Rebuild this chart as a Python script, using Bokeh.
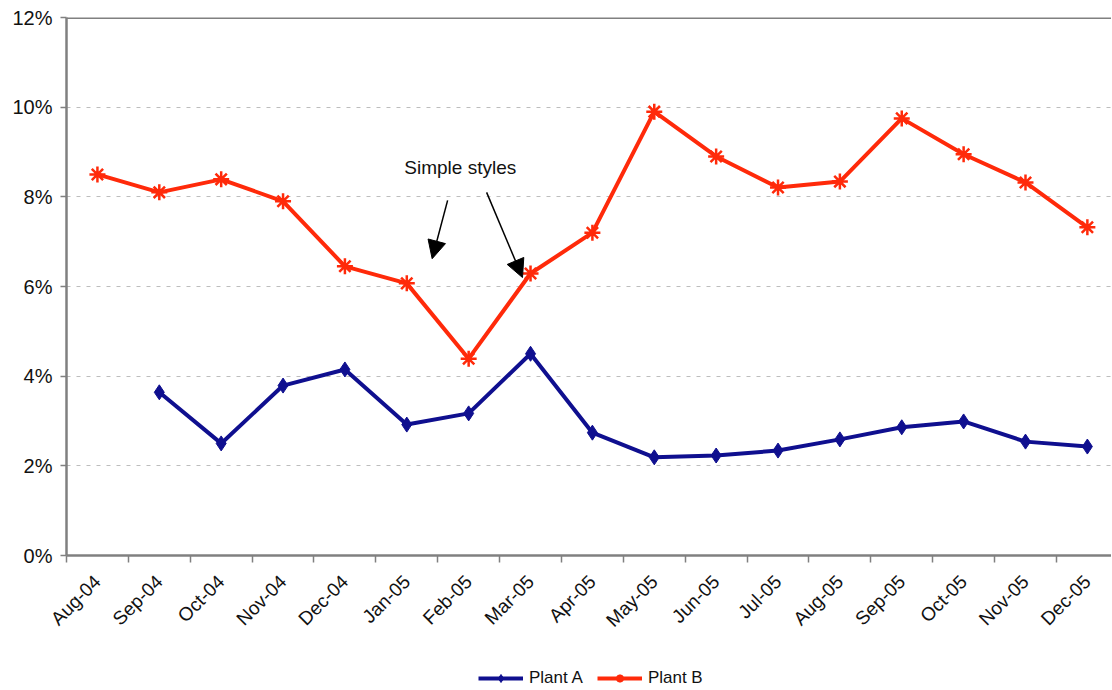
import numpy as np
from math import pi
from bokeh.plotting import figure
from bokeh.layouts import column
from bokeh.models import (Range1d, FixedTicker, Span, Arrow, NormalHead, Label,
                          Legend, LegendItem, PrintfTickFormatter)
from bokeh.embed import file_html
from bokeh.resources import INLINE

months = ["Aug-04", "Sep-04", "Oct-04", "Nov-04", "Dec-04", "Jan-05", "Feb-05",
          "Mar-05", "Apr-05", "May-05", "Jun-05", "Jul-05", "Aug-05", "Sep-05",
          "Oct-05", "Nov-05", "Dec-05"]
plant_a = [np.nan, 3.64, 2.50, 3.79, 4.15, 2.92, 3.17, 4.50, 2.74, 2.19, 2.23,
           2.34, 2.59, 2.86, 2.99, 2.54, 2.43]
plant_b = [8.50, 8.10, 8.39, 7.90, 6.45, 6.07, 4.39, 6.29, 7.20, 9.90, 8.90,
           8.21, 8.34, 9.75, 8.95, 8.32, 7.32]
y_ticks = [0, 2, 4, 6, 8, 10, 12]
series_names = ["Plant A", "Plant B"]

FONT = "Liberation Sans"
RED = "#ff2a0a"
BLUE = "#0f0f8f"
GRAY = "#808080"

x = np.arange(len(months)) + 0.5

p = figure(frame_width=1045, frame_height=538,
           output_backend="svg", toolbar_location=None,
           x_range=Range1d(0, 16.89), y_range=Range1d(0, 12),
           min_border_left=66, min_border_right=0, min_border_top=17, min_border_bottom=100)
p.outline_line_color = None
p.background_fill_color = "white"
p.border_fill_color = "white"

# x axis
xa = p.xaxis[0]
xa.ticker = FixedTicker(ticks=list(x), minor_ticks=list(range(len(months) + 1)))
xa.major_label_overrides = {float(xi): m for xi, m in zip(x, months)}
xa.major_tick_line_color = None
xa.major_tick_out = 6
xa.minor_tick_line_color = GRAY
xa.minor_tick_out = 7
xa.minor_tick_in = 0
xa.minor_tick_line_width = 1.5
xa.axis_line_color = GRAY
xa.axis_line_width = 2.5
xa.major_label_orientation = pi / 4
xa.major_label_text_font = FONT
xa.major_label_text_font_size = "19px"
xa.major_label_text_color = "#111111"
xa.major_label_standoff = 16

# y axis
ya = p.yaxis[0]
ya.ticker = FixedTicker(ticks=y_ticks)
ya.formatter = PrintfTickFormatter(format="%d%%")
ya.minor_tick_line_color = None
ya.major_tick_out = 6
ya.major_tick_in = 0
ya.major_tick_line_color = GRAY
ya.major_tick_line_width = 1.5
ya.axis_line_color = GRAY
ya.axis_line_width = 2.5
ya.major_label_text_font = FONT
ya.major_label_text_font_size = "20px"
ya.major_label_text_color = "#111111"
ya.major_label_standoff = 8

p.xgrid.visible = False
p.ygrid.ticker = FixedTicker(ticks=y_ticks[1:-1])
p.ygrid.grid_line_color = "#bdbdbd"
p.ygrid.grid_line_dash = "4 6"
p.ygrid.grid_line_width = 1

p.add_layout(Span(location=12, dimension="width", line_color=GRAY, line_width=3))

p.line(x, plant_a, line_color=BLUE, line_width=4)
p.scatter(x, plant_a, marker="diamond", size=15, fill_color=BLUE, line_color=BLUE)
p.line(x, plant_b, line_color=RED, line_width=4)
p.scatter(x, plant_b, marker="asterisk", size=16, line_color=RED, line_width=2.5)

p.add_layout(Label(x=5.46, y=8.65, text="Simple styles", text_font=FONT,
                   text_font_size="19px", text_baseline="middle", text_color="#111111"))
p.add_layout(Arrow(end=NormalHead(size=18, fill_color="black", line_color="black"),
                   x_start=6.16, y_start=7.92, x_end=5.91, y_end=6.62,
                   line_color="black", line_width=1.5))
p.add_layout(Arrow(end=NormalHead(size=18, fill_color="black", line_color="black"),
                   x_start=6.79, y_start=8.1, x_end=7.37, y_end=6.2,
                   line_color="black", line_width=1.5))

# legend strip below the chart: proxy renderers hold a single NaN row (draw nothing)
lf = figure(width=1111, height=44, output_backend="svg", toolbar_location=None,
            x_range=Range1d(0, 1), y_range=Range1d(0, 1),
            x_axis_location=None, y_axis_location=None, min_border=0)
lf.outline_line_color = None
lf.xgrid.visible = False
lf.ygrid.visible = False
nan1 = [np.nan]
ka = lf.line(nan1, nan1, line_color=BLUE, line_width=4)
kas = lf.scatter(nan1, nan1, marker="diamond", size=12, fill_color=BLUE, line_color=BLUE)
kb = lf.line(nan1, nan1, line_color=RED, line_width=4)
kbs = lf.scatter(nan1, nan1, marker="asterisk", size=14, line_color=RED, line_width=2.5)

legend = Legend(items=[LegendItem(label=series_names[0], renderers=[ka, kas]),
                       LegendItem(label=series_names[1], renderers=[kb, kbs])],
                orientation="horizontal", location=(412, 11),
                border_line_color=None, background_fill_alpha=0,
                label_text_font=FONT, label_text_font_size="17px",
                label_text_color="#111111",
                glyph_width=45, glyph_height=20, spacing=14, padding=2,
                margin=0, label_standoff=6)
lf.add_layout(legend)

layout = column(p, lf, spacing=0)
open("out.html", "w").write(file_html(layout, INLINE))
